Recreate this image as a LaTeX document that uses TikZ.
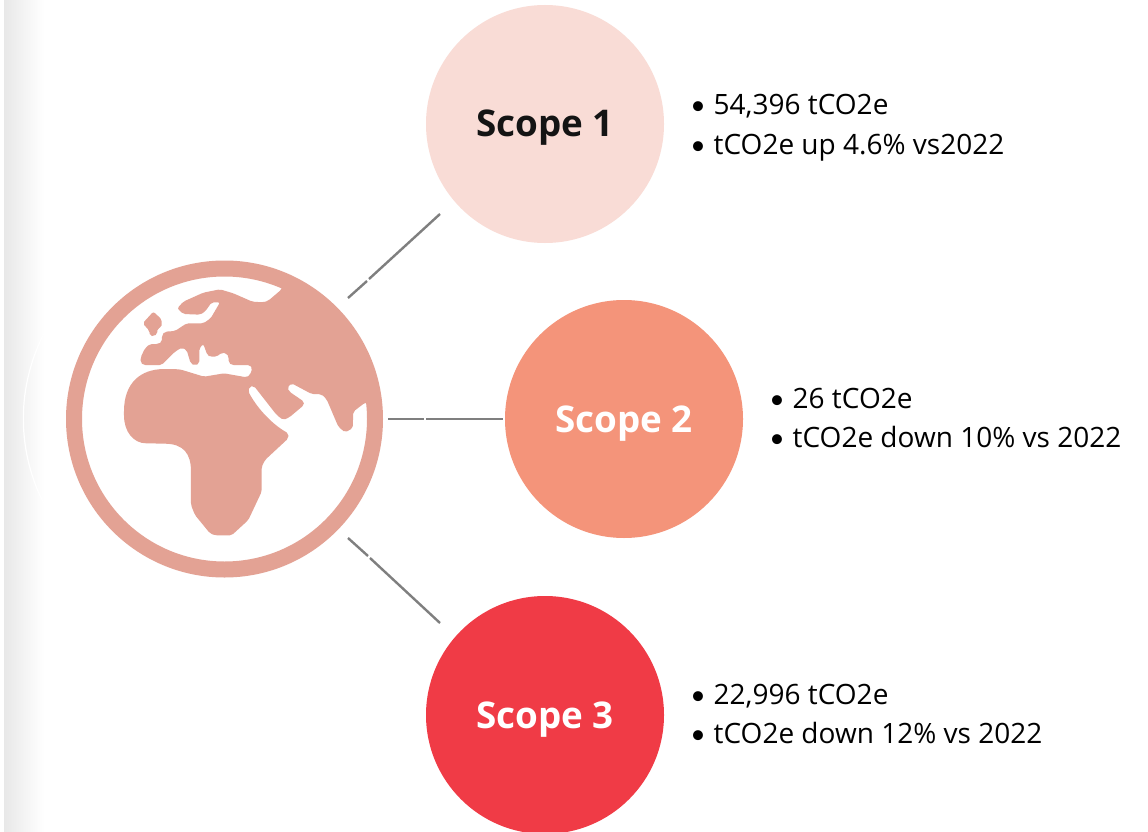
\documentclass[tikz,border=0pt]{standalone}
\usepackage{fontspec}
\setmainfont{Open Sans}
\newfontfamily\bulletfont{Carlito}
\definecolor{landc}{HTML}{E3A294}
\definecolor{sonec}{HTML}{F9DCD6}
\definecolor{stwoc}{HTML}{F4947A}
\definecolor{sthreec}{HTML}{F03B46}
\definecolor{linec}{HTML}{7F7F7F}
\newcommand{\bulletline}[1]{\makebox[21.5pt][l]{\kern-1pt{\bulletfont •}}#1}
\tikzset{
  scopedisc/.style={circle,minimum size=238pt,inner sep=0pt,text height=26pt,text depth=0pt,font=\fontsize{36.8}{40}\selectfont\bfseries},
  infotext/.style={anchor=base west,inner sep=0pt,font=\fontsize{28}{30}\selectfont,text=black},
  linkline/.style={draw=linec,line width=2.4pt},
  ringline/.style={draw=landc,line width=16pt},
  landmass/.style={fill=landc,rounded corners=2pt}
}
\begin{document}
\begin{tikzpicture}[x=1pt,y=-1pt]
\useasboundingbox (0,0) rectangle (1148,832);
\fill[white] (0,0) rectangle (1148,832);
\shade[left color=black!9,right color=white,shading angle=90,draw=none] (4,0) rectangle (44,832);
\draw[white,line width=1.2pt] (57,312) arc[start angle=145,end angle=215,radius=186pt];

% globe
\begin{scope}
\clip (224.5,419) circle[radius=150pt];
\begin{scope}[shift={(0,240)},x=0.33333pt,y=-0.33333pt]
\path[landmass]
 (845,148) -- (805,182) -- (790,187) -- (757,185) -- (700,160) -- (660,148) -- (610,158) -- (550,185) -- (532,205) -- (550,222) -- (600,224) -- (615,215) -- (635,187) -- (660,187) -- (632,235) -- (610,250) -- (560,250) -- (525,273) -- (495,275) -- (486,285) -- (486,305) -- (475,312) -- (450,312) -- (435,325) -- (422,352) -- (422,368) -- (430,375) -- (485,375) -- (525,335) -- (545,323) -- (560,330) -- (572,370) -- (585,377) -- (598,370) -- (598,325) -- (610,312) -- (622,345) -- (630,350) -- (650,350) -- (665,338) -- (680,340) -- (686,350) -- (686,368) -- (695,375) -- (750,375) -- (757,385) -- (750,405) -- (740,412) -- (672,400) -- (612,410) -- (540,388) -- (500,387) .. controls (420,387) and (372,430) .. (372,520) .. controls (372,575) and (400,610) .. (445,610) -- (490,611) .. controls (550,612) and (573,640) .. (573,700) -- (573,795) -- (585,825) -- (630,880) -- (645,886) -- (695,886) -- (745,840) -- (785,755) -- (785,680) -- (795,660) -- (865,595) -- (865,580) .. controls (820,555) and (775,510) .. (745,455) -- (748,440) -- (762,438) -- (830,525) -- (850,540) -- (868,532) -- (912,495) -- (912,485) -- (868,455) -- (862,442) -- (875,430) -- (935,462) -- (965,463) -- (980,478) -- (1015,560) -- (1035,577) -- (1058,565) -- (1060,515) -- (1095,488) -- (1300,480) -- (1300,-100) -- (900,-100) -- cycle;
\path[landmass] (460,215) -- (485,238) -- (485,262) -- (472,265) -- (472,282) -- (462,288) -- (450,288) -- (448,272) -- (428,250) -- cycle;
\end{scope}
\end{scope}
\node[circle,ringline,minimum size=301pt,inner sep=0pt] (globe) at (224.5,419) {};

% discs
\node[scopedisc,fill=sonec,text=black!92] (s1) at (545,124) {Scope 1};
\node[scopedisc,fill=stwoc,text=white] (s2) at (624,419) {Scope 2};
\node[scopedisc,fill=sthreec,text=white] (s3) at (545,715) {Scope 3};

% connectors
\coordinate (a1) at (348,298); \coordinate (a2) at (367,281); \coordinate (a3) at (369,279); \coordinate (a4) at (440,214);
\coordinate (b1) at (388,419); \coordinate (b2) at (424,419); \coordinate (b3) at (426,419); \coordinate (b4) at (503,419);
\coordinate (c1) at (348,538); \coordinate (c2) at (368,556); \coordinate (c3) at (370,558); \coordinate (c4) at (440,623);
\draw[linkline] (a1) -- (a2); \draw[linkline] (a3) -- (a4);
\draw[linkline] (b1) -- (b2); \draw[linkline] (b3) -- (b4);
\draw[linkline] (c1) -- (c2); \draw[linkline] (c3) -- (c4);

% texts
\node[infotext] (t1a) at (692,115) {\bulletline{54,396 tCO2e}};
\node[infotext] (t1b) at (692,154) {\bulletline{tCO2e up 4.6\% vs2022}};
\node[infotext] (t2a) at (771,408) {\bulletline{26 tCO2e}};
\node[infotext] (t2b) at (771,447) {\bulletline{tCO2e down 10\% vs 2022}};
\node[infotext] (t3a) at (692,704) {\bulletline{22,996 tCO2e}};
\node[infotext] (t3b) at (692,743) {\bulletline{tCO2e down 12\% vs 2022}};
\end{tikzpicture}
\end{document}
